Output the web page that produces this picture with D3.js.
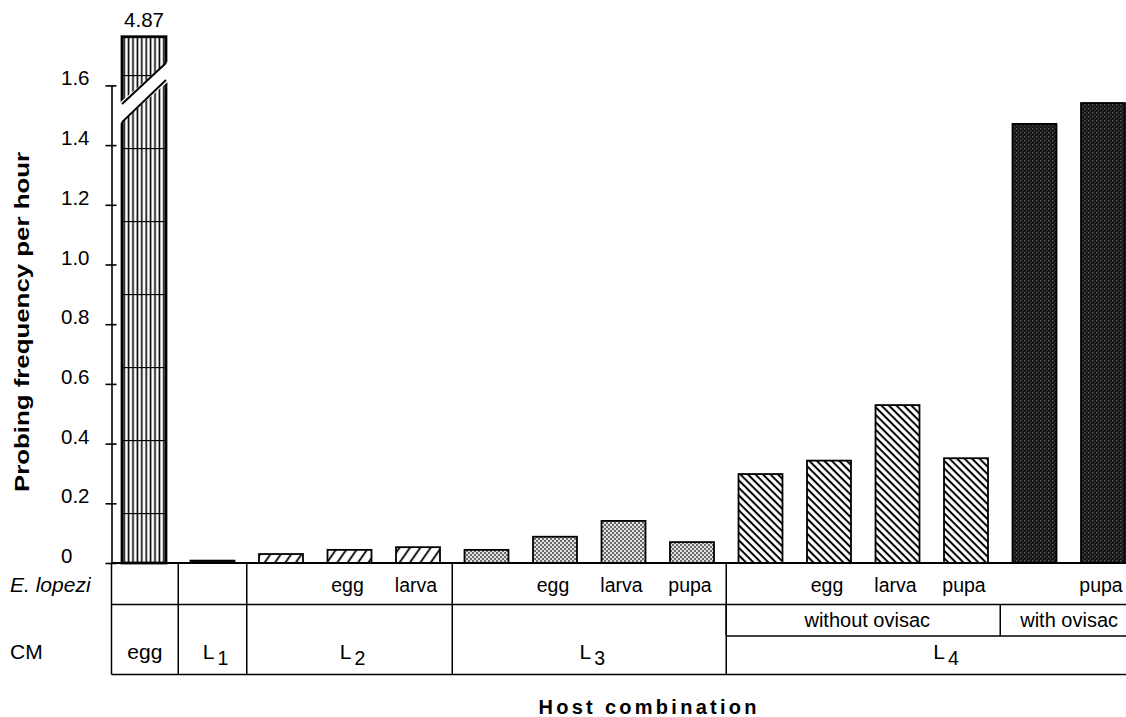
<!DOCTYPE html>
<html>
<head>
<meta charset="utf-8">
<script src="https://cdn.jsdelivr.net/npm/d3@7"></script>
<style>
  body { margin: 0; background: #fff; }
  svg { display: block; font-family: 'Liberation Sans', Arial, Helvetica, sans-serif; }
</style>
</head>
<body>
<div id="grafica"></div>
<script>
// datos
var etapaCM = ['egg', 'L1', 'L2', 'L2', 'L2', 'L3', 'L3', 'L3', 'L3', 'L4', 'L4', 'L4', 'L4', 'L4', 'L4']
var etapaLopezi = ['', '', '', 'egg', 'larva', '', 'egg', 'larva', 'pupa', '', 'egg', 'larva', 'pupa', '', 'pupa']
var ovisaco = ['', '', '', '', '', '', '', '', '', 'without ovisac', 'without ovisac', 'without ovisac', 'without ovisac', 'with ovisac', 'with ovisac']
var frecuencia = [4.87, 0.008, 0.03, 0.044, 0.053, 0.044, 0.088, 0.141, 0.07, 0.298, 0.343, 0.529, 0.351, 1.471, 1.541]
var yTicks = [0, 0.2, 0.4, 0.6, 0.8, 1.0, 1.2, 1.4, 1.6]
var yTickLabels = ['0', '0.2', '0.4', '0.6', '0.8', '1.0', '1.2', '1.4', '1.6']

var width = 1126
var height = 717
var ejeX = 111.5
var yCorte = 1.763 // la barra de 4.87 se dibuja cortada hasta aqui

var svg = d3
  .select('#grafica')
  .append('svg')
  .attr('width', width)
  .attr('height', height)

svg.append('rect').attr('width', width).attr('height', height).attr('fill', '#fff')

var indices = d3.range(frecuencia.length)

var x = d3
  .scaleBand()
  .domain(indices)
  .range([109.75, 1137.25])
  .paddingInner(0.358)
  .paddingOuter(0.179)

var y = d3.scaleLinear().domain([0, 1.6]).range([563, 85.4])

// patrones de relleno
var defs = svg.append('defs')

var rejilla = defs
  .append('pattern')
  .attr('id', 'rejilla')
  .attr('patternUnits', 'userSpaceOnUse')
  .attr('x', x(0))
  .attr('y', 2)
  .attr('width', 4.4)
  .attr('height', 73)
rejilla.append('rect').attr('width', 4.4).attr('height', 73).attr('fill', '#fff')
rejilla.append('line').attr('x1', 2.2).attr('x2', 2.2).attr('y1', 0).attr('y2', 73).attr('stroke', '#000').attr('stroke-width', 1.6)
rejilla.append('line').attr('x1', 0).attr('x2', 4.4).attr('y1', 0.5).attr('y2', 0.5).attr('stroke', '#000').attr('stroke-width', 1.3)

var diagonal = defs
  .append('pattern')
  .attr('id', 'diagonal')
  .attr('patternUnits', 'userSpaceOnUse')
  .attr('width', 8.5)
  .attr('height', 8.5)
  .attr('patternTransform', 'rotate(35)')
diagonal.append('rect').attr('width', 8.5).attr('height', 8.5).attr('fill', '#fff')
diagonal.append('line').attr('x1', 4).attr('x2', 4).attr('y1', 0).attr('y2', 8.5).attr('stroke', '#000').attr('stroke-width', 1.8)

var contraria = defs
  .append('pattern')
  .attr('id', 'contraria')
  .attr('patternUnits', 'userSpaceOnUse')
  .attr('width', 5.3)
  .attr('height', 5.3)
  .attr('patternTransform', 'rotate(-45)')
contraria.append('rect').attr('width', 5.3).attr('height', 5.3).attr('fill', '#fff')
contraria.append('line').attr('x1', 2.6).attr('x2', 2.6).attr('y1', 0).attr('y2', 5.3).attr('stroke', '#000').attr('stroke-width', 2)

var punteado = defs
  .append('pattern')
  .attr('id', 'punteado')
  .attr('patternUnits', 'userSpaceOnUse')
  .attr('width', 4)
  .attr('height', 4)
punteado.append('rect').attr('width', 4).attr('height', 4).attr('fill', '#e2e2e2')
punteado.append('rect').attr('width', 2).attr('height', 2).attr('fill', '#6a6a6a')
punteado.append('rect').attr('x', 2).attr('y', 2).attr('width', 2).attr('height', 2).attr('fill', '#6a6a6a')

var oscuro = defs
  .append('pattern')
  .attr('id', 'oscuro')
  .attr('patternUnits', 'userSpaceOnUse')
  .attr('width', 4)
  .attr('height', 4)
oscuro.append('rect').attr('width', 4).attr('height', 4).attr('fill', '#141414')
oscuro.append('rect').attr('width', 1.5).attr('height', 1.5).attr('fill', '#5a5a5a')
oscuro.append('rect').attr('x', 2).attr('y', 2).attr('width', 1.5).attr('height', 1.5).attr('fill', '#3a3a3a')

function relleno(i) {
  if (etapaCM[i] == 'egg') return 'url(#rejilla)'
  if (etapaCM[i] == 'L1') return '#111'
  if (etapaCM[i] == 'L2') return 'url(#diagonal)'
  if (etapaCM[i] == 'L3') return 'url(#punteado)'
  return ovisaco[i] == 'with ovisac' ? 'url(#oscuro)' : 'url(#contraria)'
}

// barras
svg
  .append('g')
  .selectAll('rect')
  .data(indices)
  .enter()
  .append('rect')
  .attr('x', (i) => x(i))
  .attr('width', x.bandwidth())
  .attr('y', (i) => y(Math.min(frecuencia[i], yCorte)))
  .attr('height', (i) => y(0) - y(Math.min(frecuencia[i], yCorte)))
  .attr('fill', (i) => relleno(i))
  .attr('stroke', '#000')
  .attr('stroke-width', (i) => (i == 0 ? 2.8 : 1.8))

// corte de la barra que se sale de la escala
var rotas = indices.filter((i) => frecuencia[i] > yCorte)
rotas.forEach(function (i) {
  var x0 = x(i) - 2
  var x1 = x(i) + x.bandwidth() + 2
  svg
    .append('polygon')
    .attr('points', [
      [x0, y(1.472)],
      [x0, y(1.543)],
      [x1, y(1.68)],
      [x1, y(1.612)],
    ].join(' '))
    .attr('fill', '#fff')
  svg
    .append('line')
    .attr('x1', x(i)).attr('x2', x(i) + x.bandwidth())
    .attr('y1', y(1.538)).attr('y2', y(1.675))
    .attr('stroke', '#000').attr('stroke-width', 2)
  svg
    .append('line')
    .attr('x1', x(i)).attr('x2', x(i) + x.bandwidth())
    .attr('y1', y(1.477)).attr('y2', y(1.618))
    .attr('stroke', '#000').attr('stroke-width', 2)
  svg
    .append('text')
    .attr('x', x(i) + x.bandwidth() / 2)
    .attr('y', y(yCorte) - 10)
    .attr('text-anchor', 'middle')
    .style('font-size', '20.5px')
    .text(frecuencia[i].toFixed(2))
})

// eje Y
var gEje = svg
  .append('g')
  .attr('transform', 'translate(' + ejeX + ',0)')
  .call(
    d3
      .axisLeft(y)
      .tickValues(yTicks)
      .tickFormat((d, i) => yTickLabels[i])
      .tickSize(6)
      .tickSizeOuter(0),
  )
  .attr('font-size', null)
  .attr('font-family', null)
gEje.select('.domain').attr('stroke-width', 1.6)
gEje.selectAll('.tick line').attr('x1', 5).attr('x2', -6).attr('stroke-width', 1.6)
gEje
  .selectAll('.tick text')
  .attr('x', 61 - ejeX)
  .attr('dy', '-0.02em')
  .attr('text-anchor', 'start')
  .attr('fill', '#000')
  .style('font-size', '20.5px')

// linea base
svg
  .append('line')
  .attr('x1', ejeX)
  .attr('x2', width)
  .attr('y1', y(0))
  .attr('y2', y(0))
  .attr('stroke', '#000')
  .attr('stroke-width', 2)

// tabla de combinaciones
var fila1 = 604.5
var fila2 = 636
var fila3 = 674.5
var bordeDer = 1160
var hueco = (x.step() - x.bandwidth()) / 2

function izq(i) {
  return i == 0 ? ejeX : x(i) - hueco
}
function der(i) {
  return i == indices.length - 1 ? bordeDer : x(i) + x.bandwidth() + hueco
}

function tramos(arr) {
  var res = []
  arr.forEach(function (e, i) {
    if (e == '') return
    var ultimo = res[res.length - 1]
    if (ultimo && ultimo.etiqueta == e && ultimo.fin == i - 1) ultimo.fin = i
    else res.push({ etiqueta: e, ini: i, fin: i })
  })
  return res
}

var celdasCM = tramos(etapaCM)
var celdasOvisaco = tramos(ovisaco)

var tabla = svg.append('g').attr('stroke', '#000').attr('stroke-width', 1.5)

tabla
  .selectAll('.vcm')
  .data(celdasCM)
  .enter()
  .append('line')
  .attr('x1', (d) => izq(d.ini))
  .attr('x2', (d) => izq(d.ini))
  .attr('y1', y(0))
  .attr('y2', fila3)

tabla
  .selectAll('.vov')
  .data(celdasOvisaco)
  .enter()
  .append('line')
  .attr('x1', (d) => izq(d.ini))
  .attr('x2', (d) => izq(d.ini))
  .attr('y1', fila1)
  .attr('y2', fila2)

tabla.append('line').attr('x1', ejeX).attr('x2', width).attr('y1', fila1).attr('y2', fila1)
tabla.append('line').attr('x1', izq(celdasOvisaco[0].ini)).attr('x2', width).attr('y1', fila2).attr('y2', fila2)
tabla.append('line').attr('x1', ejeX).attr('x2', width).attr('y1', fila3).attr('y2', fila3)

// textos de la tabla
svg
  .append('g')
  .selectAll('text')
  .data(indices.filter((i) => etapaLopezi[i] != ''))
  .enter()
  .append('text')
  .attr('x', (i) => x(i) + x.bandwidth() / 2 - 2)
  .attr('y', 591.5)
  .attr('text-anchor', 'middle')
  .style('font-size', '19.5px')
  .text((i) => etapaLopezi[i])

svg
  .append('g')
  .selectAll('text')
  .data(celdasOvisaco)
  .enter()
  .append('text')
  .attr('x', (d) => (izq(d.ini) + der(d.fin)) / 2 + (d.fin == indices.length - 1 ? -11 : 4))
  .attr('y', 627)
  .attr('text-anchor', 'middle')
  .style('font-size', '20px')
  .text((d) => d.etiqueta)

var textosCM = svg
  .append('g')
  .selectAll('text')
  .data(celdasCM)
  .enter()
  .append('text')
  .attr('x', (d) => (izq(d.ini) + der(d.fin)) / 2 + (d.etiqueta == 'egg' ? 0 : 3))
  .attr('y', 658.5)
  .attr('text-anchor', 'middle')
  .style('font-size', '21px')

textosCM.each(function (d) {
  var t = d3.select(this)
  var m = d.etiqueta.match(/^L(\d)$/)
  if (m) {
    t.append('tspan').text('L')
    t.append('tspan').attr('dx', 3).attr('dy', 6).style('font-size', '19.5px').text(m[1])
  } else {
    t.text(d.etiqueta)
  }
})

svg
  .append('text')
  .attr('x', 10)
  .attr('y', 591.5)
  .style('font-size', '21px')
  .style('font-style', 'italic')
  .text('E. lopezi')

svg
  .append('text')
  .attr('x', 10)
  .attr('y', 659)
  .style('font-size', '21px')
  .text('CM')

// titulos de los ejes
svg
  .append('text')
  .attr('transform', 'translate(28.5,322) rotate(-90)')
  .attr('text-anchor', 'middle')
  .attr('textLength', 340)
  .attr('lengthAdjust', 'spacingAndGlyphs')
  .style('font-size', '20px')
  .style('font-weight', 'bold')
  .text('Probing frequency per hour')

svg
  .append('text')
  .attr('x', 647.5)
  .attr('y', 714)
  .attr('text-anchor', 'middle')
  .attr('textLength', 218)
  .attr('lengthAdjust', 'spacing')
  .style('font-size', '20px')
  .style('font-weight', 'bold')
  .text('Host combination')
</script>
</body>
</html>
